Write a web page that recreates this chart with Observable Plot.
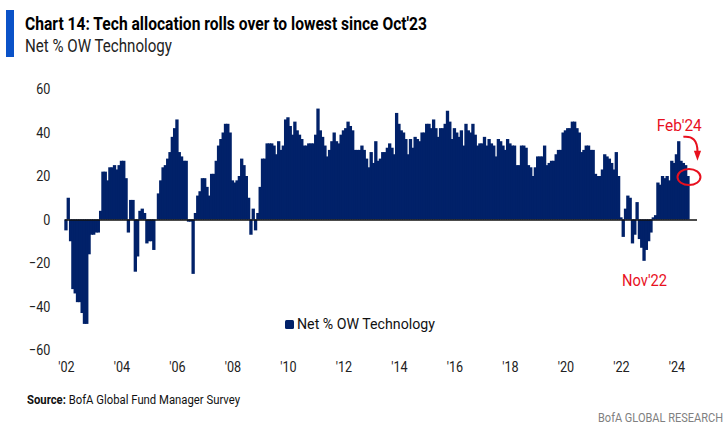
<!DOCTYPE html>
<html>
<head>
<meta charset="utf-8">
<script src="https://cdn.jsdelivr.net/npm/d3@7"></script>
<script src="https://cdn.jsdelivr.net/npm/@observablehq/plot@0.6"></script>
<style>
  html, body { margin: 0; padding: 0; background: #fff; }
  #wrap { position: relative; width: 727px; height: 436px; overflow: hidden;
          font-family: Roboto, "Liberation Sans", sans-serif; }
  #wrap > svg { position: absolute; left: 0; top: 0; }
  .t { position: absolute; white-space: nowrap; line-height: 1; }
  #accent { position: absolute; left: 6px; top: 10px; width: 8px; height: 47px; background: #0a52c8; }
  #title { left: 25px; font-size: 17.5px; font-weight: bold; color: #000; }
  #subtitle { left: 25px; font-size: 17.5px; color: #222; }
  #legend { left: 285px; font-size: 15.5px; color: #111; }
  #legend .sw { position: absolute; left: 0; top: 3px; width: 9px; height: 9px; background: #012169; border-radius: 1.5px; }
  #legend .lt { position: absolute; left: 12px; top: 0; white-space: nowrap; }
  #source { left: 27px; font-size: 12.5px; color: #111; }
  #brand { right: 4px; font-size: 12.5px; color: #808080; }
</style>
</head>
<body>
<div id="wrap">
  <div id="accent"></div>
  <div class="t" id="title">Chart 14: Tech allocation rolls over to lowest since Oct'23</div>
  <div class="t" id="subtitle">Net % OW Technology</div>
  <div class="t" id="legend"><span class="sw"></span><span class="lt" id="legendText">Net % OW Technology</span></div>
  <div class="t" id="source"><b>Source:</b> BofA Global Fund Manager Survey</div>
  <div class="t" id="brand">BofA GLOBAL RESEARCH</div>
</div>
<script>
// ---- Data: BofA Global FMS, net % overweight Technology (monthly, Jan 2002 - Jun 2024) ----
const y2002 = [-5, 10, -10, -32, -34, -38, -38, -43, -48, -48, -16, -7];
const y2003 = [-7, -6, -6, 4, 22, 22, 18, 24, 24, 25, 23, 25];
const y2004 = [27, 27, 19, -6, 9, 9, -24, -17, 4, 5, 3, -11];
const y2005 = [-10, -10, -14, 0, 12, 18, 24, 25, 28, 31, 38, 42];
const y2006 = [46, 31, 29, 27, 27, -1, -1, -25, 3, 11, 13, 19];
const y2007 = [19, 15, 11, 21, 21, 27, 34, 37, 40, 44, 44, 40];
const y2008 = [18, 17, 18, 20, 28, 25, 20, 10, -7, 5, -5, 3];
const y2009 = [15, 28, 28, 35, 35, 35, 34, 30, 36, 32, 34, 46];
const y2010 = [47, 43, 39, 45, 41, 39, 37, 34, 34, 35, 35, 35];
const y2011 = [39, 51, 41, 38, 34, 29, 32, 36, 40, 36, 35, 39];
const y2012 = [41, 42, 45, 43, 41, 32, 32, 32, 34, 32, 28, 24];
const y2013 = [31, 26, 36, 27, 28, 31, 31, 33, 35, 33, 30, 49];
const y2014 = [44, 41, 40, 37, 30, 37, 33, 38, 37, 36, 40, 40];
const y2015 = [44, 44, 42, 46, 42, 38, 42, 42, 44, 50, 45, 37];
const y2016 = [42, 40, 38, 41, 34, 44, 41, 40, 44, 39, 34, 35];
const y2017 = [35, 38, 34, 37, 35, 34, 29, 37, 36, 34, 32, 37];
const y2018 = [35, 34, 34, 25, 25, 34, 34, 33, 25, 24, 20, 24];
const y2019 = [29, 29, 29, 34, 25, 26, 27, 27, 30, 32, 32, 40];
const y2020 = [41, 42, 42, 45, 45, 42, 40, 31, 32, 34, 34, 32];
const y2021 = [32, 21, 20, 20, 23, 30, 29, 28, 26, 23, 31, 20];
const y2022 = [1, -8, 5, 11, 10, -11, -7, 8, -9, -13, -19, -14];
const y2023 = [-10, -6, 1, 2, 17, 16, 20, 19, 20, 18, 27, 26];
const y2024 = [30, 36, 27, 26, 25, 20];

const yearSeries = [y2002, y2003, y2004, y2005, y2006, y2007, y2008, y2009, y2010, y2011, y2012,
  y2013, y2014, y2015, y2016, y2017, y2018, y2019, y2020, y2021, y2022, y2023, y2024];
const firstYear = 2002;

const xTickYears = [2002, 2004, 2006, 2008, 2010, 2012, 2014, 2016, 2018, 2020, 2022, 2024];
const yTicks = [-60, -40, -20, 0, 20, 40, 60];

const notes = [
  {month: "2024-02", value: 43.4, label: "Feb'24"},
  {month: "2022-11", value: -27.8, label: "Nov'22"}
];
const circled = {month: "2024-06", value: 19.5};
const arrowFrom = {month: "2024-04", value: 38};

// ---- build table ----
const mkey = (y, m) => `${y}-${String(m + 1).padStart(2, "0")}`;
const data = [];
yearSeries.forEach((arr, i) => arr.forEach((v, m) => data.push({month: mkey(firstYear + i, m), value: v})));
const months = data.map(d => d.month);
const tickMonths = xTickYears.map(y => mkey(y, 0));

const NAVY = "#012169";
const RED = "#e8101e";
const FONT = 'Roboto, "Liberation Sans", sans-serif';

const plot = Plot.plot({
  width: 727,
  height: 436,
  marginLeft: 64.8,
  marginRight: 30,
  marginTop: 89,
  marginBottom: 86,
  style: {fontFamily: FONT, fontSize: "15px", color: "#222", background: "transparent", overflow: "visible"},
  x: {type: "band", domain: months, paddingInner: 0, paddingOuter: 1.7, align: 0},
  y: {domain: [-60, 60]},
  marks: [
    Plot.barY(data, {x: "month", y: "value", fill: NAVY, insetLeft: -0.5, insetRight: -0.5}),
    Plot.ruleY([0], {stroke: "#111", strokeWidth: 1.6}),
    Plot.axisY({ticks: yTicks, tickSize: 0, tickPadding: 15, label: null, fill: "#222"}),
    Plot.axisX({ticks: tickMonths, tickSize: 0, tickPadding: 11, label: null, fill: "#222",
      tickFormat: d => "'" + d.slice(2, 4)}),
    Plot.text(notes, {x: "month", y: "value", text: "label", fill: RED, fontSize: 17, textAnchor: "middle"})
  ]
});

document.getElementById("wrap").prepend(plot);

// ---- annotation shapes placed through the plot's scales ----
const xs = plot.scale("x"), ys = plot.scale("y");
const bw = xs.bandwidth;
const xc = m => xs.apply(m) + bw / 2;
const svg = d3.select(plot);
const g = svg.append("g").attr("fill", "none").attr("stroke", RED).attr("stroke-width", 2);
g.append("ellipse")
  .attr("cx", xc(circled.month) + 1).attr("cy", ys.apply(circled.value))
  .attr("rx", 11.5).attr("ry", 8);
const ax = xc(arrowFrom.month), ay = ys.apply(arrowFrom.value);
const ex = xc(circled.month) + 9.5, ey = ay + 15;
g.append("path").attr("d", `M${ax},${ay} C${ax + 9},${ay - 1} ${ex},${ay + 3} ${ex},${ey}`);
svg.append("path").attr("fill", RED)
  .attr("d", `M${ex - 3.6},${ey - 1} L${ex + 3.6},${ey - 1} L${ex},${ey + 9} Z`);

// ---- condense svg texts (reference uses a narrow face) ----
svg.selectAll("g[aria-label='y-axis tick label'] text, g[aria-label='x-axis tick label'] text").each(function () {
  const L = this.getComputedTextLength();
  this.setAttribute("textLength", (L * 0.84).toFixed(2));
  this.setAttribute("lengthAdjust", "spacingAndGlyphs");
});
svg.selectAll("g[aria-label='text'] text").each(function () {
  this.setAttribute("textLength", 45);
  this.setAttribute("lengthAdjust", "spacingAndGlyphs");
});

// ---- place html text by baseline and fit to reference widths ----
function place(id, baseline, width, origin) {
  const el = document.getElementById(id);
  const fs = parseFloat(getComputedStyle(el).fontSize);
  el.style.top = (baseline - 0.842 * fs) + "px";
  if (width) {
    const w = el.getBoundingClientRect().width;
    el.style.transformOrigin = origin || "left center";
    el.style.transform = `scaleX(${width / w})`;
  }
}
place("title", 30.7, 402);
place("subtitle", 52.7, 147);
place("legend", 330.5);
place("source", 404.5, 213);
place("brand", 422.5, 125, "right center");
(function () {
  const el = document.getElementById("legendText");
  const w = el.getBoundingClientRect().width;
  el.style.transformOrigin = "left center";
  el.style.transform = `scaleX(${138 / w})`;
})();
</script>
</body>
</html>
